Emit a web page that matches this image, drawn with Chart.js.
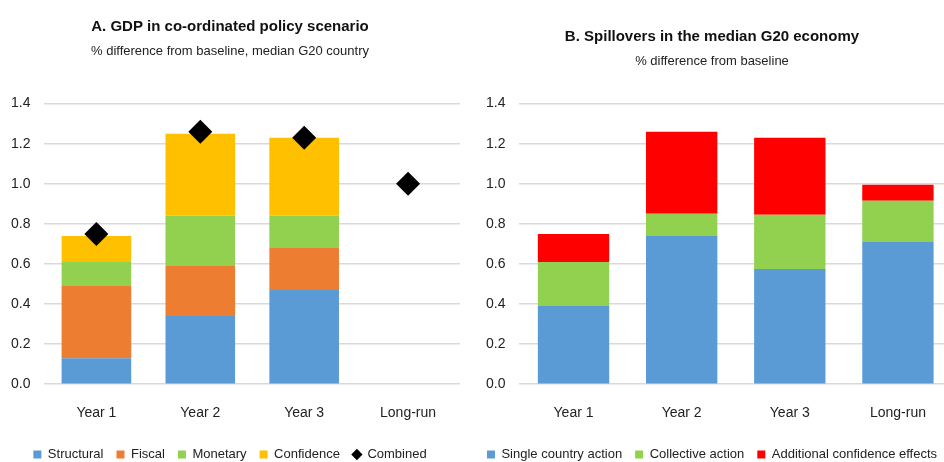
<!DOCTYPE html>
<html>
<head>
<meta charset="utf-8">
<script src="https://cdn.jsdelivr.net/npm/chart.js@4/dist/chart.umd.min.js"></script>
<style>
    html, body { margin: 0; padding: 0; background: #fff; overflow: hidden; width: 944px; height: 462px; }
    .panel { position: absolute; top: 0; height: 462px; }
    #panelA { left: 0; width: 472px; }
    #panelB { left: 472px; width: 480px; }
</style>
</head>
<body>
<div class="panel" id="panelA"><canvas id="chartA"></canvas></div>
<div class="panel" id="panelB"><canvas id="chartB"></canvas></div>
<script>
/* ---- data ---- */
const categories = ['Year 1', 'Year 2', 'Year 3', 'Long-run'];
const yTicks = [0, 0.2, 0.4, 0.6, 0.8, 1.0, 1.2, 1.4];

// Panel A: GDP in co-ordinated policy scenario
const structural = [0.13, 0.34, 0.47, null];
const fiscal     = [0.36, 0.25, 0.21, null];
const monetary   = [0.12, 0.25, 0.16, null];
const confidence = [0.13, 0.41, 0.39, null];
const combined   = [0.75, 1.26, 1.23, 1.0];

// Panel B: spillovers in the median G20 economy
const singleCountry   = [0.39, 0.74, 0.575, 0.71];
const collective      = [0.22, 0.11, 0.27, 0.205];
const extraConfidence = [0.14, 0.41, 0.385, 0.08];

const FONT = '"Liberation Sans Narrow", "Arial Narrow", "Liberation Sans", Arial, sans-serif';
const TXT = '#222';

// pad: [top, left, right, subtitleGap]
function baseOptions(title, subtitle, pad, barPct) {
    return {
        responsive: true,
        maintainAspectRatio: false,
        animation: false,
        layout: { padding: { top: pad[0], left: pad[1], right: pad[2], bottom: -9 } },
        datasets: { bar: { categoryPercentage: 1, barPercentage: barPct } },
        plugins: {
            title: { display: true, text: title, color: '#111', font: { family: FONT, size: 15, weight: 'bold' }, padding: { top: 0, bottom: 8 } },
            subtitle: { display: true, text: subtitle, color: TXT, font: { family: FONT, size: 13 }, padding: { top: 0, bottom: pad[3] } },
            legend: {
                position: 'bottom',
                labels: {
                    color: TXT, font: { family: FONT, size: 13 },
                    usePointStyle: true, boxWidth: 8, boxHeight: 8, padding: 13,
                    sort: (a, b) => a.datasetIndex - b.datasetIndex
                }
            },
            tooltip: { enabled: false }
        },
        scales: {
            x: {
                stacked: true,
                grid: { display: false },
                border: { display: false },
                ticks: { color: TXT, font: { family: FONT, size: 14 }, padding: 13 }
            },
            y: {
                stacked: true,
                min: 0, max: 1.4,
                afterBuildTicks: axis => { axis.ticks = yTicks.map(v => ({ value: v })); },
                grid: { color: '#d9d9d9', lineWidth: 1.5, drawTicks: false },
                border: { display: false },
                ticks: { color: TXT, font: { family: FONT, size: 14 }, padding: 14, callback: v => v.toFixed(1) }
            }
        }
    };
}

function barSet(label, data, color) {
    return { type: 'bar', label, data, backgroundColor: color, borderWidth: 0, pointStyle: 'rect', order: 1 };
}

new Chart(document.getElementById('chartA'), {
    data: {
        labels: categories,
        datasets: [
            barSet('Structural', structural, '#5b9bd5'),
            barSet('Fiscal', fiscal, '#ed7d31'),
            barSet('Monetary', monetary, '#92d050'),
            barSet('Confidence', confidence, '#ffc000'),
            {
                type: 'line', label: 'Combined', data: combined, stack: 'combined',
                showLine: false, pointStyle: 'rectRot', pointRadius: 12, pointHoverRadius: 12,
                backgroundColor: '#000', borderColor: '#000', borderWidth: 0, order: 0
            }
        ]
    },
    options: baseOptions('A. GDP in co-ordinated policy scenario', '% difference from baseline, median G20 country', [18, -3, 9, 44], 0.67)
});

new Chart(document.getElementById('chartB'), {
    data: {
        labels: categories,
        datasets: [
            barSet('Single country action', singleCountry, '#5b9bd5'),
            barSet('Collective action', collective, '#92d050'),
            barSet('Additional confidence effects', extraConfidence, '#ff0000')
        ]
    },
    options: baseOptions('B. Spillovers in the median G20 economy', '% difference from baseline', [28, 0, 0, 34], 0.66)
});
</script>
</body>
</html>
